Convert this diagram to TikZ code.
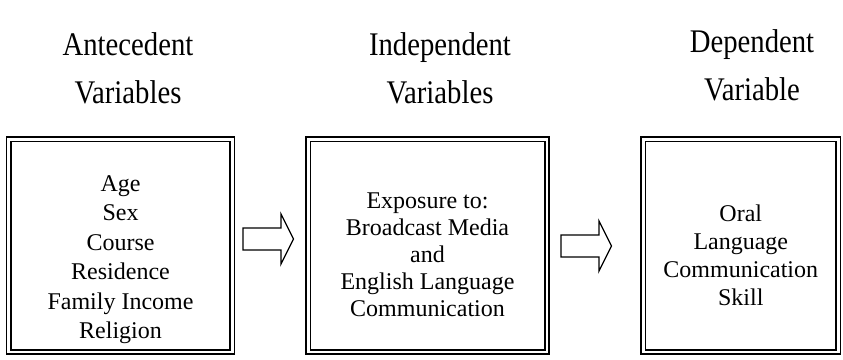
\documentclass[tikz,border=0pt]{standalone}
\usepackage{fontspec}
\setmainfont{Liberation Serif}
\newfontfamily\headfont[FakeStretch=0.87]{Liberation Serif}
\begin{document}
\begin{tikzpicture}[x=1pt,y=-1pt,
  dbox/.style={draw, double, line width=1.7pt, double distance=2.6pt, inner sep=0pt, rectangle},
  body/.style={font=\fontsize{24}{29.5}\selectfont, align=center, inner sep=0pt},
  head/.style={font=\headfont\fontsize{33}{48}\selectfont, align=center, inner sep=0pt},
  blockarrow/.style={draw, line width=1.3pt, line join=miter, fill=white}]
\useasboundingbox (0,0) rectangle (843,359);
% headers
\node[head] (h1) at (128,68) {Antecedent\\Variables};
\node[head] (h2) at (440,68) {Independent\\Variables};
\node[head] (h3) at (752,65) {Dependent\\Variable};
% boxes
\node[dbox, minimum width=223.5pt, minimum height=212.8pt] (b1) at (120.5,245.6) {};
\node[dbox, minimum width=238.6pt, minimum height=212.8pt] (b2) at (427.5,245.6) {};
\node[dbox, minimum width=195pt, minimum height=212.8pt] (b3) at (740.8,245.6) {};
% texts
\node[body] (t1) at (120.5,259.5) {Age\\Sex\\Course\\Residence\\Family Income\\Religion};
\node[body, font=\fontsize{24}{27}\selectfont] (t2) at (427.5,255) {Exposure to:\\Broadcast Media\\and\\English Language\\Communication};
\node[body, font=\fontsize{24}{28}\selectfont] (t3) at (740.8,255) {Oral\\Language\\Communication\\Skill};
% block arrows
\draw[blockarrow] (243,228) -- (281,228) -- (281,214) -- (293.5,239) -- (281,264) -- (281,250) -- (243,250) -- cycle;
\draw[blockarrow] (561,235) -- (599,235) -- (599,221) -- (611.5,246) -- (599,271) -- (599,257) -- (561,257) -- cycle;
\end{tikzpicture}
\end{document}
